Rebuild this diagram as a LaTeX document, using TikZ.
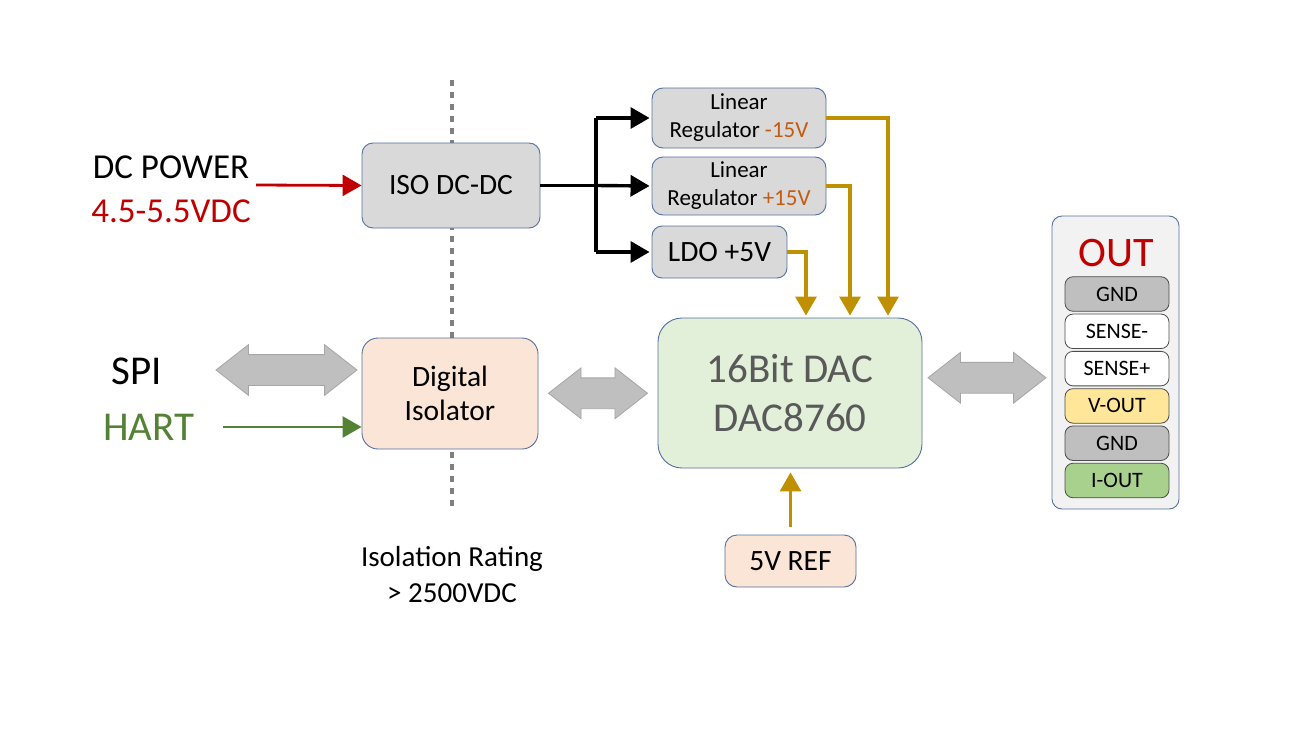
\documentclass[tikz,border=0pt]{standalone}
\usepackage{fontspec}
\setmainfont{Carlito}
\usetikzlibrary{arrows.meta,positioning,calc,shapes.arrows}
\definecolor{boxline}{RGB}{84,112,160}
\definecolor{boxgray}{RGB}{217,217,217}
\definecolor{peach}{RGB}{251,229,214}
\definecolor{palegreen}{RGB}{226,240,217}
\definecolor{panelgray}{RGB}{242,242,242}
\definecolor{pingray}{RGB}{191,191,191}
\definecolor{pinyellow}{RGB}{255,230,153}
\definecolor{pingreen}{RGB}{169,209,142}
\definecolor{pwrred}{RGB}{192,0,0}
\definecolor{hartgreen}{RGB}{84,130,53}
\definecolor{gold}{RGB}{191,144,0}
\definecolor{regorange}{RGB}{197,90,17}
\definecolor{dactext}{RGB}{89,89,89}
\tikzset{
  blockbox/.style={
    draw=boxline,
    line width=0.9pt,
    rounded corners=11pt,
    align=center,
    inner sep=0pt,
    font=\fontsize{29.5}{34}\selectfont
  },
  regbox/.style={
    blockbox,
    fill=boxgray,
    minimum width=174pt,
    font=\fontsize{23}{28}\selectfont
  },
  pinbox/.style={
    draw=black!70,
    line width=0.8pt,
    rounded corners=8pt,
    minimum width=104pt,
    minimum height=34.5pt,
    inner sep=0pt,
    font=\fontsize{22}{24}\selectfont
  },
  fatarrow/.style={
    shape=double arrow,
    fill=black!25,
    draw=black!35,
    line width=0.8pt,
    minimum width=50pt,
    inner xsep=0pt,
    inner ysep=15pt,
    double arrow head extend=10pt,
    double arrow tip angle=76
  },
  powerarrow/.style={
    -{Triangle[width=21pt,length=19pt]},
    line width=3.4pt
  },
  refarrow/.style={
    draw=gold,
    -{Triangle[width=21pt,length=19pt]},
    line width=3.2pt
  },
  isoline/.style={
    draw=black!50,
    line width=4pt,
    dash pattern=on 6pt off 6pt
  },
  sidetext/.style={
    inner sep=0pt,
    font=\fontsize{35}{40}\selectfont
  }
}

\begin{document}
\begin{tikzpicture}[x=1pt,y=-1pt]
  \useasboundingbox (0,0) rectangle (1309,750);
  % isolation barrier
  \coordinate (bartop) at (452,80);
  \coordinate (barbot) at (452,506);
  \draw[isoline] (bartop) -- (barbot);

  % blocks
  \node[blockbox, fill=boxgray, minimum width=178pt, minimum height=85pt] (iso) at (451,185.5) {ISO DC-DC};
  \node[regbox, minimum height=60pt] (reg1) at (739,118) {Linear\\Regulator {\color{regorange}-15V}};
  \node[regbox, minimum height=58pt] (reg2) at (739,186) {Linear\\Regulator {\color{regorange}+15V}};
  \node[blockbox, fill=boxgray, rounded corners=10pt, minimum width=135pt, minimum height=52pt] (ldo) at (719.5,252) {LDO +5V};
  \node[blockbox, fill=peach, rounded corners=16pt, minimum width=176pt, minimum height=111pt] (diso) at (450,393.5) {Digital\\Isolator};
  \node[blockbox, fill=palegreen, rounded corners=24pt, minimum width=264pt, minimum height=150pt,
        text=dactext, font=\fontsize{41}{49}\selectfont] (dac) at (790,393) {16Bit DAC\\DAC8760};
  \node[blockbox, fill=peach, rounded corners=12pt, minimum width=131pt, minimum height=52pt] (ref) at (790.5,561) {5V REF};

  % side labels
  \node[sidetext] (dcpwr) at (171,167) {DC POWER};
  \node[sidetext, text=pwrred] (dcvolt) at (171,211) {4.5-5.5VDC};
  \node[sidetext, font=\fontsize{41}{44}\selectfont] (spi) at (137,371) {SPI};
  \node[sidetext, font=\fontsize{41}{44}\selectfont, text=hartgreen] (hart) at (149,427) {HART};
  \node[align=center, inner sep=0pt, font=\fontsize{29}{36}\selectfont] (rating) at (452,575) {Isolation Rating\\> 2500VDC};

  % output connector panel
  \node[draw=boxline, line width=0.9pt, fill=panelgray, rounded corners=10pt,
        minimum width=127pt, minimum height=293pt] (panel) at (1115.5,362.5) {};
  \node[text=pwrred, inner sep=0pt, font=\fontsize{42}{46}\selectfont] (outlbl) at (1116,253) {OUT};
  \node[pinbox, fill=pingray] (pin1) at (1117,294) {GND};
  \node[pinbox, fill=white, below=2pt of pin1] (pin2) {SENSE-};
  \node[pinbox, fill=white, below=2pt of pin2] (pin3) {SENSE+};
  \node[pinbox, fill=pinyellow, below=2pt of pin3] (pin4) {V-OUT};
  \node[pinbox, fill=pingray, below=2pt of pin4] (pin5) {GND};
  \node[pinbox, fill=pingreen, below=2pt of pin5] (pin6) {I-OUT};

  % power path
  \draw[powerarrow, draw=pwrred, line width=2.8pt] ($(dcpwr.east)!0.5!(dcvolt.east)+(6,-4)$) -- (iso.west);
  \coordinate (split) at (596,185.5);
  \draw[line width=3.4pt] (iso.east) -- (split);
  \draw[line width=3.4pt] (split |- reg1) -- (split |- ldo);
  \draw[powerarrow, shorten >=2pt] (split |- reg1) -- (reg1.west);
  \draw[powerarrow, shorten >=2pt] (split) -- (reg2.west);
  \draw[powerarrow, shorten >=2pt] (split |- ldo) -- (ldo.west);
  \draw[refarrow, shorten >=2pt] (reg1.east) -| ([xshift=98pt]dac.north);
  \draw[refarrow, shorten >=2pt] (reg2.east) -| ([xshift=60pt]dac.north);
  \draw[refarrow, shorten >=2pt] (ldo.east) -| ([xshift=16pt]dac.north);
  \draw[refarrow, shorten <=8pt, shorten >=4pt] (ref.north) -- (ref.north |- dac.south);

  % data path
  \node[fatarrow, minimum height=141pt] (spiarrow) at (286.5,370) {};
  \draw[powerarrow, draw=hartgreen, line width=2.8pt] (hart.east) ++(28,0) -- (diso.west |- hart.east);
  \node[fatarrow, minimum height=99pt] (midarrow) at ($(diso.east)!0.5!(dac.west)$) {};
  \node[fatarrow, minimum height=118pt] (outarrow) at ($(dac.east)!0.5!(panel.west)$) {};
\end{tikzpicture}
\end{document}
